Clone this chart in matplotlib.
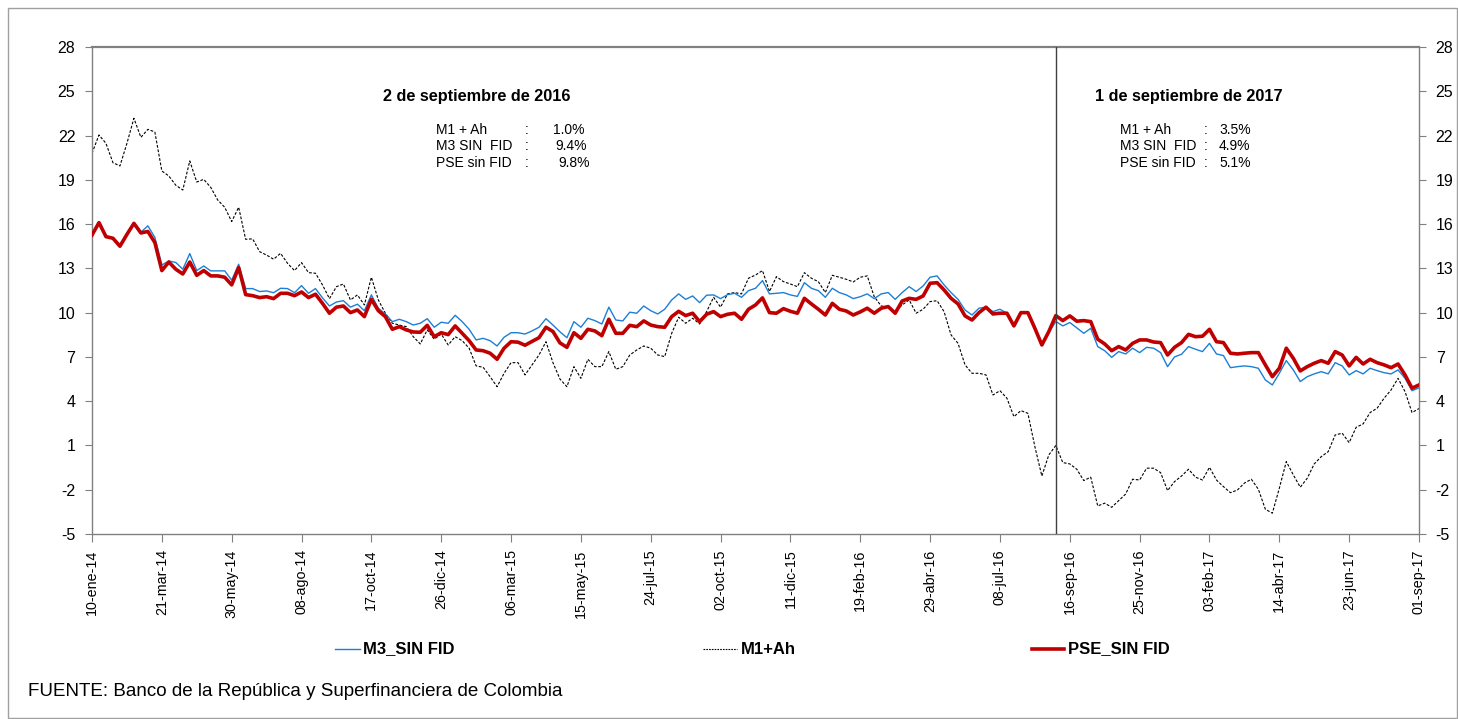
import numpy as np
import matplotlib
matplotlib.use("Agg")
import matplotlib.pyplot as plt
from matplotlib.lines import Line2D
from matplotlib.patches import Rectangle

plt.rcParams['font.family'] = ['Liberation Sans', 'DejaVu Sans']

tick_labels = ["10-ene-14", "21-mar-14", "30-may-14", "08-ago-14", "17-oct-14", "26-dic-14",
               "06-mar-15", "15-may-15", "24-jul-15", "02-oct-15", "11-dic-15", "19-feb-16",
               "29-abr-16", "08-jul-16", "16-sep-16", "25-nov-16", "03-feb-17", "14-abr-17",
               "23-jun-17", "01-sep-17"]

pse_sin_fid = [
    15.26, 16.10, 15.15, 15.04, 14.50, 15.30, 16.05, 15.40, 15.50, 14.75,
    12.85, 13.43, 12.94, 12.62, 13.43, 12.53, 12.85, 12.49, 12.49, 12.40,
    11.88, 13.05, 11.22, 11.15, 11.02, 11.08, 10.95, 11.31, 11.31, 11.15,
    11.40, 11.02, 11.25, 10.63, 9.96, 10.37, 10.45, 10.00, 10.18, 9.73,
    10.90, 10.13, 9.73, 8.87, 9.05, 8.83, 8.69, 8.67, 9.14, 8.37,
    8.64, 8.51, 9.10, 8.60, 8.10, 7.47, 7.42, 7.25, 6.84, 7.59,
    8.03, 8.00, 7.79, 8.05, 8.30, 9.01, 8.72, 7.95, 7.65, 8.64,
    8.26, 8.87, 8.76, 8.44, 9.55, 8.60, 8.60, 9.14, 9.05, 9.44,
    9.16, 9.05, 9.01, 9.73, 10.09, 9.80, 9.96, 9.39, 9.89, 10.07,
    9.73, 9.89, 9.96, 9.55, 10.23, 10.52, 11.00, 10.00, 9.96, 10.27,
    10.09, 9.96, 10.97, 10.59, 10.23, 9.84, 10.63, 10.23, 10.11, 9.84,
    10.05, 10.30, 9.96, 10.30, 10.41, 9.96, 10.79, 10.97, 10.90, 11.13,
    11.99, 12.03, 11.54, 10.97, 10.59, 9.78, 9.50, 10.00, 10.37, 9.91,
    9.96, 9.96, 9.10, 10.00, 10.00, 8.94, 7.81, 8.72, 9.80, 9.46,
    9.78, 9.42, 9.46, 9.39, 8.20, 7.88, 7.42, 7.70, 7.47, 7.92,
    8.15, 8.15, 8.01, 7.97, 7.13, 7.65, 7.97, 8.53, 8.37, 8.40,
    8.87, 8.03, 7.97, 7.25, 7.20, 7.25, 7.29, 7.29, 6.46, 5.66,
    6.23, 7.59, 6.91, 6.05, 6.34, 6.57, 6.75, 6.57, 7.36, 7.13,
    6.39, 6.97, 6.52, 6.84, 6.61, 6.46, 6.27, 6.52, 5.78, 4.88,
    5.10]

m3_sin_fid = [
    15.26, 16.10, 15.15, 15.04, 14.60, 15.30, 16.10, 15.45, 15.88, 15.10,
    13.23, 13.50, 13.40, 12.94, 14.00, 12.85, 13.16, 12.83, 12.83, 12.83,
    12.20, 13.28, 11.63, 11.63, 11.43, 11.47, 11.35, 11.65, 11.63, 11.35,
    11.83, 11.31, 11.63, 11.00, 10.45, 10.72, 10.81, 10.37, 10.57, 10.13,
    11.20, 10.30, 9.91, 9.39, 9.55, 9.39, 9.16, 9.28, 9.59, 9.01,
    9.35, 9.28, 9.82, 9.39, 8.87, 8.15, 8.26, 8.10, 7.74, 8.33,
    8.64, 8.64, 8.55, 8.76, 9.01, 9.59, 9.16, 8.70, 8.30, 9.39,
    9.01, 9.62, 9.46, 9.23, 10.37, 9.50, 9.44, 10.03, 9.96, 10.45,
    10.13, 9.91, 10.23, 10.86, 11.27, 10.90, 11.13, 10.68, 11.18, 11.20,
    10.95, 11.22, 11.31, 11.04, 11.49, 11.65, 12.17, 11.27, 11.31, 11.36,
    11.20, 11.10, 12.03, 11.65, 11.49, 11.04, 11.65, 11.36, 11.20, 10.95,
    11.08, 11.27, 10.95, 11.27, 11.36, 10.90, 11.36, 11.76, 11.43, 11.81,
    12.40, 12.49, 11.88, 11.36, 10.90, 10.18, 9.84, 10.30, 10.37, 10.07,
    10.23, 9.96, 9.10, 10.00, 9.96, 8.94, 7.81, 8.65, 9.40, 9.10,
    9.33, 8.97, 8.60, 8.94, 7.70, 7.42, 6.97, 7.36, 7.20, 7.59,
    7.29, 7.65, 7.59, 7.29, 6.34, 7.00, 7.18, 7.70, 7.52, 7.36,
    7.92, 7.20, 7.09, 6.27, 6.34, 6.39, 6.34, 6.23, 5.44, 5.10,
    5.89, 6.75, 6.12, 5.33, 5.66, 5.85, 6.00, 5.85, 6.61, 6.39,
    5.78, 6.07, 5.85, 6.23, 6.07, 5.93, 5.85, 6.12, 5.55, 4.71,
    4.90]

m1_ah = [
    20.80, 22.04, 21.47, 20.16, 19.94, 21.47, 23.17, 21.88, 22.42, 22.24,
    19.60, 19.26, 18.63, 18.31, 20.28, 18.85, 19.03, 18.49, 17.63, 17.14,
    16.17, 17.14, 14.97, 15.00, 14.13, 13.90, 13.62, 14.02, 13.34, 12.85,
    13.39, 12.71, 12.67, 11.88, 10.95, 11.76, 11.94, 10.86, 11.20, 10.52,
    12.40, 10.86, 9.96, 9.28, 9.16, 9.05, 8.37, 7.88, 8.83, 8.20,
    8.55, 7.81, 8.37, 8.10, 7.59, 6.39, 6.30, 5.66, 4.98, 5.89,
    6.61, 6.61, 5.78, 6.46, 7.13, 8.03, 6.61, 5.50, 4.98, 6.34,
    5.55, 6.84, 6.34, 6.34, 7.36, 6.16, 6.34, 7.13, 7.47, 7.74,
    7.59, 7.13, 7.02, 8.60, 9.69, 9.28, 9.62, 9.23, 10.07, 11.04,
    10.37, 11.27, 11.36, 11.27, 12.33, 12.55, 12.85, 11.43, 12.44, 12.10,
    11.94, 11.76, 12.71, 12.33, 12.10, 11.36, 12.53, 12.40, 12.26, 12.08,
    12.40, 12.49, 11.08, 10.45, 10.37, 10.07, 10.52, 10.86, 9.96, 10.23,
    10.75, 10.81, 10.07, 8.49, 7.92, 6.46, 5.89, 5.89, 5.78, 4.42,
    4.71, 4.20, 2.95, 3.36, 3.18, 0.92, -1.07, 0.36, 1.00, -0.16,
    -0.25, -0.61, -1.38, -1.15, -3.10, -2.91, -3.19, -2.74, -2.29, -1.29,
    -1.34, -0.54, -0.54, -0.84, -2.06, -1.45, -1.07, -0.61, -1.15, -1.34,
    -0.48, -1.34, -1.79, -2.20, -2.02, -1.55, -1.29, -1.97, -3.32, -3.59,
    -1.90, -0.09, -0.99, -1.83, -1.22, -0.25, 0.24, 0.58, 1.71, 1.83,
    1.19, 2.23, 2.46, 3.23, 3.52, 4.20, 4.76, 5.55, 4.65, 3.23,
    3.50]

marker_week = 138  # 2-sep-16

y_ticks = list(range(-5, 29, 3))

W, H = 1458, 719
fig = plt.figure(figsize=(W / 100, H / 100), dpi=100)
fig.patch.set_facecolor('white')

def fx(px):
    return px / W

def fy(py):
    return 1 - py / H

ax = fig.add_axes([fx(92), fy(534), fx(1419) - fx(92), fy(47) - fy(534)])
x = np.arange(len(pse_sin_fid))

ax.plot(x, m1_ah, color='black', lw=0.8, ls=(0, (2.5, 1.5)), zorder=2)
ax.plot(x, m3_sin_fid, color='#1c7fd6', lw=1.0, zorder=3)
ax.plot(x, pse_sin_fid, color='#c00000', lw=2.6, zorder=4)
ax.axvline(marker_week, color='#404040', lw=1.0, zorder=5)

ax.set_xlim(0, len(x) - 1)
ax.set_ylim(-5, 28)
ax.set_yticks(y_ticks)
ax.set_yticklabels([str(v) for v in y_ticks], fontsize=11.5)
ax.set_xticks(np.arange(0, len(x), 10))
ax.set_xticklabels(tick_labels, rotation=90, fontsize=10.3)
ax.tick_params(axis='x', direction='out', length=6, color='#808080', pad=5)
ax.tick_params(axis='y', direction='out', length=5, color='#808080', pad=7)

for s in ['left', 'bottom', 'right', 'top']:
    ax.spines[s].set_color('#808080')
    ax.spines[s].set_linewidth(1.0)
ax.spines['top'].set_linewidth(1.6)

ax2 = ax.twinx()
ax2.set_ylim(-5, 28)
ax2.set_yticks(y_ticks)
ax2.set_yticklabels([str(v) for v in y_ticks], fontsize=11.5)
ax2.tick_params(axis='y', direction='out', length=5, color='#808080', pad=7)
for s in ['left', 'bottom', 'right', 'top']:
    ax2.spines[s].set_visible(False)

# annotations
fig.text(fx(477), fy(96), "2 de septiembre de 2016", ha='center', va='center',
         fontsize=11.7, fontweight='bold')
rows1 = [("M1 + Ah", "1.0%"), ("M3 SIN  FID", "9.4%"), ("PSE sin FID", "9.8%")]
val_right1 = [585, 587, 590]
for i, (lab, val) in enumerate(rows1):
    yy = fy(130 + i * 16.5)
    fig.text(fx(436), yy, lab, ha='left', va='center', fontsize=10)
    fig.text(fx(525), yy, ":", ha='left', va='center', fontsize=10)
    fig.text(fx(val_right1[i]), yy, val, ha='right', va='center', fontsize=10)

fig.text(fx(1189), fy(96), "1 de septiembre de 2017", ha='center', va='center',
         fontsize=11.7, fontweight='bold')
rows2 = [("M1 + Ah", "3.5%"), ("M3 SIN  FID", "4.9%"), ("PSE sin FID", "5.1%")]
for i, (lab, val) in enumerate(rows2):
    yy = fy(130 + i * 16.5)
    fig.text(fx(1120), yy, lab, ha='left', va='center', fontsize=10)
    fig.text(fx(1204), yy, ":", ha='left', va='center', fontsize=10)
    fig.text(fx(1219), yy, val, ha='left', va='center', fontsize=10)

# legend
ly = fy(649)
fig.add_artist(Line2D([fx(335), fx(360)], [ly, ly], color='#1c7fd6', lw=1.0))
fig.text(fx(363), ly, "M3_SIN FID", ha='left', va='center', fontsize=12, fontweight='bold')
fig.add_artist(Line2D([fx(703), fx(737)], [ly, ly], color='black', lw=0.8, ls=(0, (1.5, 1))))
fig.text(fx(741), ly, "M1+Ah", ha='left', va='center', fontsize=12, fontweight='bold')
fig.add_artist(Line2D([fx(1032), fx(1064)], [ly, ly], color='#c00000', lw=2.6))
fig.text(fx(1068), ly, "PSE_SIN FID", ha='left', va='center', fontsize=12, fontweight='bold')

fig.text(fx(28), fy(692), "FUENTE: Banco de la República y Superfinanciera de Colombia",
         ha='left', va='center', fontsize=13.5)

# outer frame
fig.add_artist(Rectangle((fx(8), fy(718)), fx(1457) - fx(8), fy(8) - fy(718),
                         fill=False, edgecolor='#a0a0a0', lw=1.0))

fig.savefig("out.png", dpi=100)
